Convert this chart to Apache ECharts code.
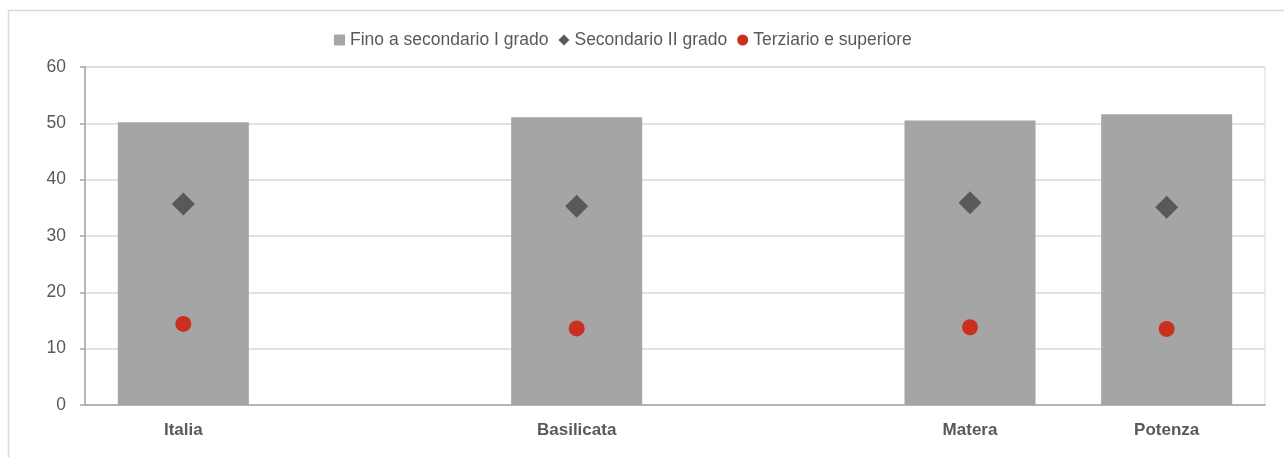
<!DOCTYPE html>
<html>
<head>
<meta charset="utf-8">
<script src="https://cdn.jsdelivr.net/npm/echarts@6/dist/echarts.min.js"></script>
<style>
  html, body { margin: 0; padding: 0; background: #fff; }
  #chart { width: 1284px; height: 457px; }
</style>
</head>
<body>
<div id="chart"></div>
<script>
// categories (blank slots keep the gaps between groups)
const categories = ['Italia', ' ', 'Basilicata', '  ', 'Matera', 'Potenza'];
const finoSecondarioI = [50.2, '-', 51.1, '-', 50.5, 51.6];
const secondarioII = [35.7, '-', 35.3, '-', 35.9, 35.1];
const terziario = [14.4, '-', 13.6, '-', 13.8, 13.5];
const yTicks = [0, 10, 20, 30, 40, 50, 60];

const fontFamily = '"Liberation Sans", Arial, sans-serif';
const chart = echarts.init(document.getElementById('chart'));

const option = {
  animation: false,
  textStyle: { fontFamily: fontFamily },
  graphic: [{
    type: 'rect',
    shape: { x: 8.5, y: 10.5, width: 1300, height: 470 },
    style: { fill: 'none', stroke: '#d9d9d9', lineWidth: 1.5 },
    silent: true
  }],
  legend: {
    top: 26,
    left: 329,
    itemWidth: 11,
    itemHeight: 11,
    itemGap: 10,
    textStyle: { color: '#595959', fontSize: 17.5, fontFamily: fontFamily },
    data: [
      { name: 'Fino a secondario I grado', icon: 'rect' },
      { name: 'Secondario II grado', icon: 'diamond' },
      { name: 'Terziario e superiore', icon: 'circle' }
    ]
  },
  grid: {
    left: 85,
    right: 19,
    top: 67,
    bottom: 52,
    show: true,
    borderColor: '#d9d9d9',
    borderWidth: 1,
    backgroundColor: 'transparent'
  },
  xAxis: {
    type: 'category',
    data: categories,
    axisLine: { lineStyle: { color: '#a6a6a6', width: 1.5 } },
    axisTick: { show: false },
    axisLabel: {
      color: '#595959',
      fontSize: 17,
      fontWeight: 'bold',
      margin: 17,
      interval: 0
    }
  },
  yAxis: {
    type: 'value',
    min: yTicks[0],
    max: yTicks[yTicks.length - 1],
    interval: 10,
    axisLine: { show: true, lineStyle: { color: '#a6a6a6', width: 1.5 } },
    axisTick: { show: true, length: 5, lineStyle: { color: '#a6a6a6', width: 1.5 } },
    axisLabel: { color: '#595959', fontSize: 17.5, margin: 19 },
    splitLine: { lineStyle: { color: '#d9d9d9', width: 1.5 } }
  },
  series: [
    {
      name: 'Fino a secondario I grado',
      type: 'bar',
      data: finoSecondarioI,
      barWidth: 131,
      itemStyle: { color: '#a5a5a5' }
    },
    {
      name: 'Secondario II grado',
      type: 'scatter',
      data: secondarioII,
      symbol: 'diamond',
      symbolSize: [23, 23],
      itemStyle: { color: '#595959', opacity: 1 },
      z: 3
    },
    {
      name: 'Terziario e superiore',
      type: 'scatter',
      data: terziario,
      symbol: 'circle',
      symbolSize: 16,
      itemStyle: { color: '#c9301f', opacity: 1 },
      z: 3
    }
  ]
};

option && chart.setOption(option);
</script>
</body>
</html>
